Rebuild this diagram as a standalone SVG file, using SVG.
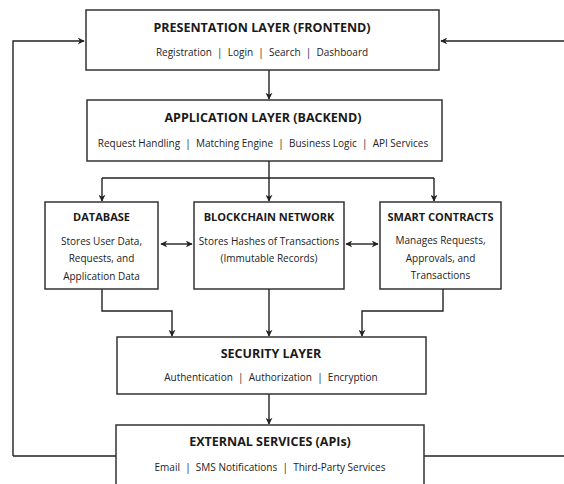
<svg xmlns="http://www.w3.org/2000/svg" width="564" height="484" viewBox="0 0 564 484">
<defs>
<marker id="ah" viewBox="0 0 10 10" refX="9" refY="5" markerWidth="7" markerHeight="7" orient="auto-start-reverse" markerUnits="userSpaceOnUse">
<path d="M0,0 L10,5 L0,10 L3,5 Z" fill="#222"/>
</marker>
<style>
.box{fill:#fff;stroke:#333;stroke-width:1.5}
.t{font-family:"Open Sans","Liberation Sans",sans-serif;font-weight:700;font-size:12.5px;fill:#1a1a1a;text-anchor:middle}
.t2{font-family:"Open Sans","Liberation Sans",sans-serif;font-weight:700;font-size:11px;fill:#1a1a1a;text-anchor:middle}
.s{font-family:"Open Sans","Liberation Sans",sans-serif;font-size:10px;fill:#222;text-anchor:middle}
.s2{font-family:"Open Sans","Liberation Sans",sans-serif;font-size:10px;fill:#222;text-anchor:middle}
.c{fill:none;stroke:#222;stroke-width:1.4}
</style>
</defs>
<rect width="564" height="484" fill="#fff"/>
<g id="connectors">
<path class="c" d="M13,456 V41 H84" marker-end="url(#ah)"/>
<path class="c" d="M116,456 H13"/>
<path class="c" d="M564,41 H441" marker-end="url(#ah)"/>
<path class="c" d="M424,456 H564"/>
<path class="c" d="M269,70 V99" marker-end="url(#ah)"/>
<path class="c" d="M269,161 V178"/>
<path class="c" d="M102,178 H434"/>
<path class="c" d="M102,178 V201" marker-end="url(#ah)"/>
<path class="c" d="M269,178 V201" marker-end="url(#ah)"/>
<path class="c" d="M434,178 V201" marker-end="url(#ah)"/>
<path class="c" d="M161,244 H192" marker-start="url(#ah)" marker-end="url(#ah)"/>
<path class="c" d="M346,244 H378" marker-start="url(#ah)" marker-end="url(#ah)"/>
<path class="c" d="M102,289 V311 H172 V336" marker-end="url(#ah)"/>
<path class="c" d="M269,289 V336" marker-end="url(#ah)"/>
<path class="c" d="M443,289 V311 H362 V336" marker-end="url(#ah)"/>
<path class="c" d="M269,394 V424" marker-end="url(#ah)"/>
</g>
<g id="presentation">
<rect class="box" x="86" y="10" width="353" height="60"/>
<text class="t" x="262" y="32">PRESENTATION LAYER (FRONTEND)</text>
<text class="s" x="262" y="56">Registration &#160;|&#160; Login &#160;|&#160; Search &#160;|&#160; Dashboard</text>
</g>
<g id="application">
<rect class="box" x="87" y="100" width="355" height="61"/>
<text class="t" x="263" y="122">APPLICATION LAYER (BACKEND)</text>
<text class="s" x="263" y="147">Request Handling &#160;|&#160; Matching Engine &#160;|&#160; Business Logic &#160;|&#160; API Services</text>
</g>
<g id="database">
<rect class="box" x="45" y="202" width="113" height="87"/>
<text class="t2" x="101.5" y="221">DATABASE</text>
<text class="s2" x="101.5" y="245">Stores User Data,</text>
<text class="s2" x="101.5" y="262">Requests, and</text>
<text class="s2" x="101.5" y="280">Application Data</text>
</g>
<g id="blockchain">
<rect class="box" x="194" y="202" width="150" height="87"/>
<text class="t2" x="269" y="221">BLOCKCHAIN NETWORK</text>
<text class="s2" x="269" y="245">Stores Hashes of Transactions</text>
<text class="s2" x="269" y="262">(Immutable Records)</text>
</g>
<g id="smartcontracts">
<rect class="box" x="380" y="202" width="121" height="87"/>
<text class="t2" x="440.5" y="221">SMART CONTRACTS</text>
<text class="s2" x="440.5" y="244">Manages Requests,</text>
<text class="s2" x="440.5" y="262">Approvals, and</text>
<text class="s2" x="440.5" y="279">Transactions</text>
</g>
<g id="security">
<rect class="box" x="117" y="337" width="309" height="57"/>
<text class="t" x="271" y="358">SECURITY LAYER</text>
<text class="s" x="271" y="381">Authentication &#160;|&#160; Authorization &#160;|&#160; Encryption</text>
</g>
<g id="external">
<rect class="box" x="116" y="425" width="308" height="70"/>
<text class="t" x="270" y="446">EXTERNAL SERVICES (APIs)</text>
<text class="s" x="270" y="471">Email &#160;|&#160; SMS Notifications &#160;|&#160; Third-Party Services</text>
</g>
</svg>
